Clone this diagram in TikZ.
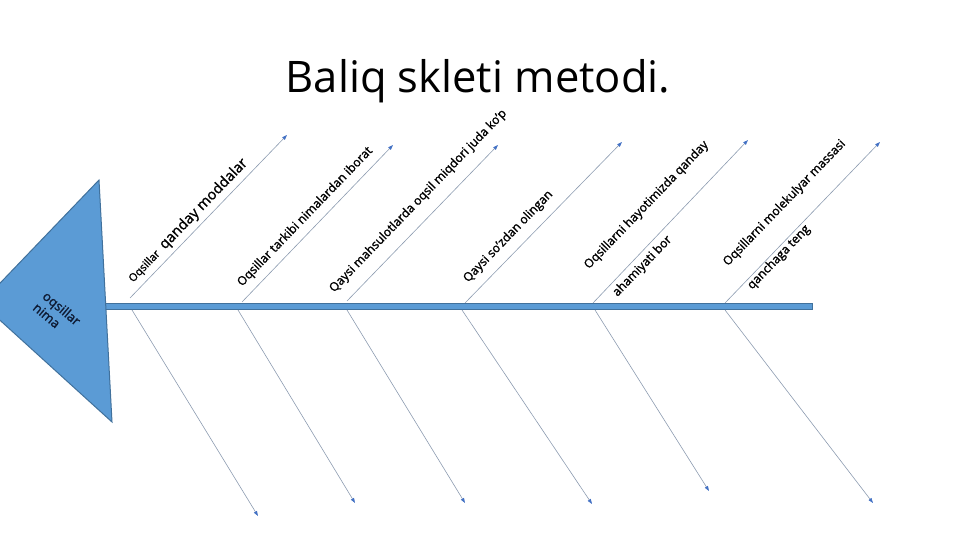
\documentclass[tikz,border=0pt]{standalone}
\usepackage{fontspec}
\setmainfont{Open Sans}
\newfontfamily\labelfont[FakeBold=1.4]{Open Sans}
\usetikzlibrary{arrows.meta}
\definecolor{fishblue}{HTML}{5B9BD5}
\definecolor{fishedge}{HTML}{41719C}
\definecolor{bonegray}{HTML}{8C9BB0}
\definecolor{tipblue}{HTML}{4472C4}
\definecolor{headtext}{HTML}{0E1A33}
\begin{document}
\begin{tikzpicture}[x=1pt,y=-1pt,
    bone/.style={bonegray, line width=0.6pt, -{Triangle[length=5pt,width=3.5pt,color=tipblue]}},
    bonelabel/.style={inner sep=0pt, rotate=46, font=\labelfont\fontsize{12.2}{14.6}\selectfont, align=left}]
            \clip (0,0) rectangle (961,540);
            %title
            \node[anchor=base, font=\fontsize{43.5}{52}\selectfont] (title) at (478,93) {Baliq skleti metodi.};
            %spine
            \draw [fishedge, fill=fishblue, line width=0.8pt] (100,303.5) rectangle (812,309.5);
            %head
            \draw [fishedge, fill=fishblue, line width=1pt] (-19,303) -- (99,180) -- (112,422) -- cycle;
            \node[rotate=-40, align=left, inner sep=0pt, headtext, font=\labelfont\fontsize{13}{15}\selectfont] (head) at (57,314) {oqsillar\\nima};
            %upper bones
            \foreach \n/\sx/\sy/\ex/\ey in {1/130/298/287/135, 2/242/302/393/145, 3/347/301/498/145, 4/465/303/622/142, 5/593/303/748/140, 6/725/303/880/142} {
                \coordinate (up\n a) at (\sx,\sy);
                \coordinate (up\n b) at (\ex,\ey);
                \draw [bone] (up\n a) -- (up\n b);
            }
            %lower bones
            \foreach \n/\sx/\sy/\ex/\ey in {1/132/310/258/516, 2/238/310/355/503, 3/347/310/465/503, 4/462/310/592/504, 5/595/310/709/491, 6/725/310/873/503} {
                \coordinate (low\n a) at (\sx,\sy);
                \coordinate (low\n b) at (\ex,\ey);
                \draw [bone] (low\n a) -- (low\n b);
            }
            %labels
            \node[bonelabel, anchor=base west] (lab1) at (133,283) {{\fontsize{11}{13}\selectfont Oqsillar}\ \ {\fontsize{14.5}{16}\selectfont qanday moddalar}};
            \node[bonelabel, anchor=base west] (lab2) at (242,287) {Oqsillar tarkibi nimalardan iborat};
            \node[bonelabel, anchor=base west] (lab3) at (334,293) {Qaysi mahsulotlarda oqsil miqdori juda ko’p};
            \node[bonelabel, anchor=base west] (lab4) at (468,283) {Qaysi so’zdan olingan};
            \node[bonelabel, anchor=north west] (lab5) at (582,263) {Oqsillarni hayotimizda qanday\\[25pt]ahamiyati bor};
            \node[bonelabel, anchor=north west] (lab6) at (721,260) {Oqsillarni molekulyar massasi\\[19pt]qanchaga teng};
            %
        \end{tikzpicture}
\end{document}
